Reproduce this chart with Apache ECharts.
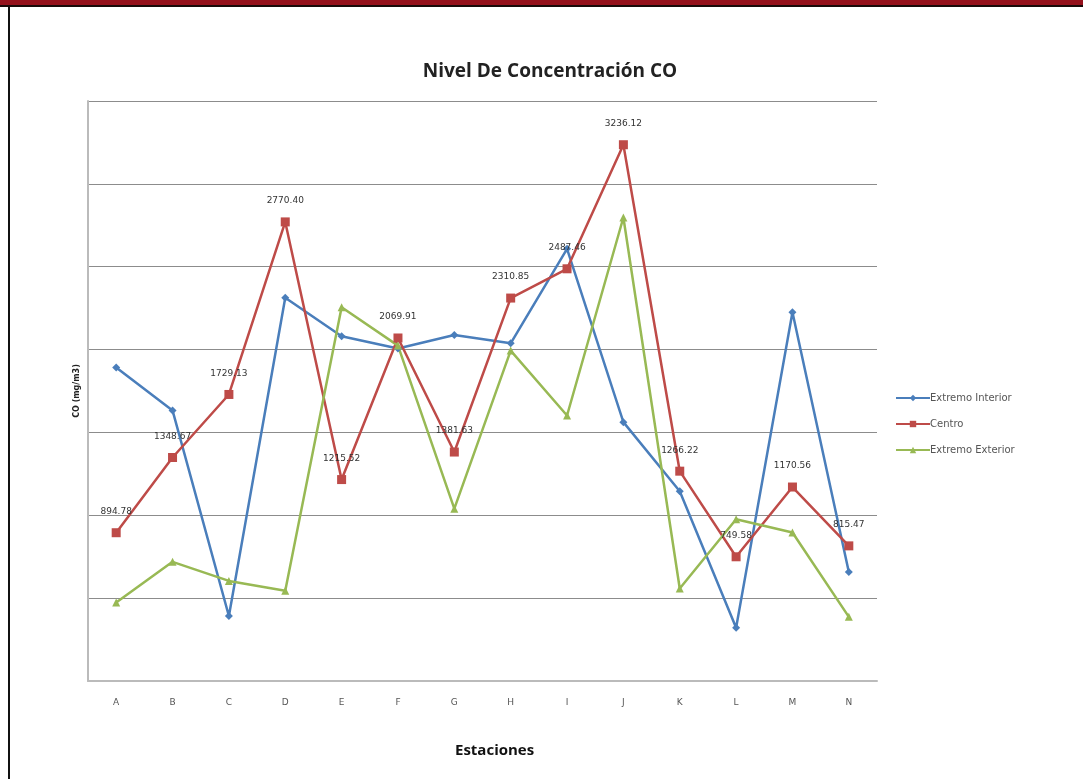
<!DOCTYPE html>
<html>
<head>
<meta charset="utf-8">
<title>Nivel De Concentración CO</title>
<script src="https://cdn.jsdelivr.net/npm/echarts@6/dist/echarts.min.js"></script>
<style>
  html, body { margin: 0; padding: 0; background: #fff; }
  #chart { width: 1083px; height: 779px; }
</style>
</head>
<body>
<div id="chart"></div>
<script>
// estaciones
var estaciones = ['A', 'B', 'C', 'D', 'E', 'F', 'G', 'H', 'I', 'J', 'K', 'L', 'M', 'N'];

// CO (mg/m3) por serie
var extremoInterior = [1892, 1633, 392, 2313, 2080, 2006, 2088, 2038, 2608, 1562, 1145, 321, 2225, 658];
var centro = [894.78, 1348.67, 1729.13, 2770.40, 1215.52, 2069.91, 1381.63, 2310.85, 2487.46, 3236.12, 1266.22, 749.58, 1170.56, 815.47];
var extremoExterior = [474, 719, 604, 544, 2255, 2024, 1040, 1994, 1602, 2797, 558, 976, 896, 387];

var chart = echarts.init(document.getElementById('chart'));

var option = {
  backgroundColor: '#fff',
  animation: false,
  // marco de la pagina
  graphic: [
    { type: 'rect', shape: { x: 0, y: 0, width: 1083, height: 5 }, style: { fill: '#95111c' } },
    { type: 'rect', shape: { x: 0, y: 5, width: 1083, height: 2 }, style: { fill: '#1a0a0a' } },
    { type: 'rect', shape: { x: 8, y: 7, width: 2, height: 772 }, style: { fill: '#111' } },
    { type: 'text', left: 455, top: 743,
      style: { text: 'Estaciones', font: 'bold 15px "Open Sans", "DejaVu Sans", sans-serif', fill: '#111' } }
  ],
  title: {
    text: 'Nivel De Concentración CO',
    left: 545,
    top: 57,
    textAlign: 'center',
    textStyle: { fontFamily: 'Open Sans', fontSize: 19, fontWeight: 'bold', color: '#222' }
  },
  legend: {
    orient: 'vertical',
    left: 890,
    top: 387,
    itemGap: 14,
    itemWidth: 34,
    itemHeight: 8,
    textStyle: { fontFamily: 'DejaVu Sans', fontSize: 10, lineHeight: 12, color: '#555', padding: [0, 0, 0, -5] },
    data: ['Extremo Interior', 'Centro', 'Extremo Exterior']
  },
  grid: { left: 88, right: 206, top: 101, bottom: 98 },
  xAxis: {
    type: 'category',
    data: estaciones,
    boundaryGap: true,
    axisLine: { lineStyle: { color: '#bbb', width: 2 } },
    axisTick: { show: false },
    axisLabel: { color: '#555', fontSize: 9, fontFamily: 'DejaVu Sans', margin: 17 }
  },
  yAxis: {
    type: 'value',
    min: 0,
    max: 3500,
    interval: 500,
    name: 'CO (mg/m3)',
    nameLocation: 'middle',
    nameGap: 7,
    nameTextStyle: { fontFamily: 'DejaVu Sans', fontSize: 8, fontWeight: 'bold', color: '#222' },
    axisLine: { show: true, lineStyle: { color: '#bbb', width: 2 } },
    axisTick: { show: false },
    axisLabel: { show: false },
    splitLine: { lineStyle: { color: '#8c8c8c', width: 1.2 } }
  },
  series: [
    {
      name: 'Extremo Interior',
      type: 'line',
      data: extremoInterior,
      symbol: 'diamond',
      symbolSize: 8,
      itemStyle: { color: '#4a7ebb' },
      lineStyle: { color: '#4a7ebb', width: 2.5 }
    },
    {
      name: 'Centro',
      type: 'line',
      data: centro,
      symbol: 'rect',
      symbolSize: 9,
      itemStyle: { color: '#be4b48' },
      lineStyle: { color: '#be4b48', width: 2.5 },
      label: {
        show: true,
        position: 'top',
        distance: 12,
        fontFamily: 'DejaVu Sans',
        fontSize: 9,
        color: '#333',
        formatter: function (p) { return p.value.toFixed(2); }
      }
    },
    {
      name: 'Extremo Exterior',
      type: 'line',
      data: extremoExterior,
      symbol: 'triangle',
      symbolSize: 8,
      itemStyle: { color: '#98b954' },
      lineStyle: { color: '#98b954', width: 2.5 }
    }
  ]
};

chart.setOption(option);
</script>
</body>
</html>
